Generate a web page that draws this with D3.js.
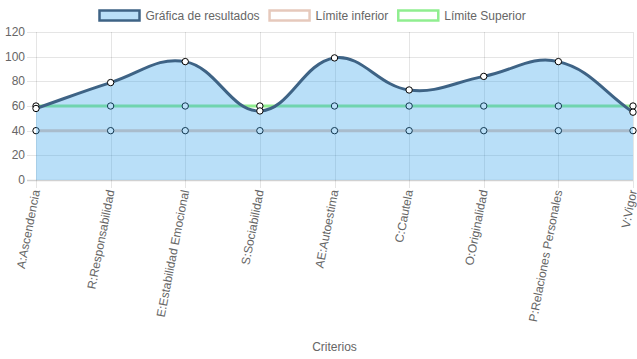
<!DOCTYPE html>
<html><head><meta charset="utf-8">
<script src="https://cdn.jsdelivr.net/npm/d3@7"></script>
<style>
html,body{margin:0;padding:0;background:#fff;}
svg{display:block;font-family:"Liberation Sans",Arial,Helvetica,sans-serif;}
</style></head>
<body><svg id="c" width="637" height="359"></svg>
<script>
const categories = ["A:Ascendencia","R:Responsabilidad","E:Estabilidad Emocional","S:Sociabilidad","AE:Autoestima","C:Cautela","O:Originalidad","P:Relaciones Personales","V:Vigor"];
const resultados = [58,79,96,56,99,73,84,96,55];
const limiteInferior = [40,40,40,40,40,40,40,40,40];
const limiteSuperior = [60,60,60,60,60,60,60,60,60];
const yTicks = [0,20,40,60,80,100,120];
const seriesNames = ["Gráfica de resultados","Límite inferior","Límite Superior"];
const axisTitle = "Criterios";

const W = 637, H = 359;
const cL = 36, cR = 633, cT = 32, cB = 180;
const svg = d3.select("#c");
const x = d3.scalePoint().domain(categories).range([cL, cR]);
const y = d3.scaleLinear().domain([0,120]).range([cB, cT]);

const lineCol = "rgb(62,99,133)";
const fillCol = "rgba(54,162,235,0.35)";
const infCol = "rgb(230,201,188)";
const supCol = "rgb(144,238,144)";
const grid = "rgba(0,0,0,0.1)";
const txt = "#666";

// gridlines
const g = svg.append("g");
yTicks.forEach(t => {
  g.append("line").attr("x1", 27).attr("x2", cR).attr("y1", Math.round(y(t))+0.5).attr("y2", Math.round(y(t))+0.5)
   .attr("stroke", t===0 ? "rgba(0,0,0,0.18)" : grid).attr("stroke-width", t===0?1.5:1);
  g.append("text").attr("x", 25).attr("y", y(t)).attr("text-anchor","end").attr("dominant-baseline","central")
   .attr("font-size", 12).attr("fill", txt).text(t);
});
categories.forEach(c => {
  g.append("line").attr("x1", Math.round(x(c))+0.5).attr("x2", Math.round(x(c))+0.5).attr("y1", cT).attr("y2", 188)
   .attr("stroke", grid);
  g.append("text").attr("transform", `translate(${x(c)},190) rotate(-79)`)
   .attr("text-anchor","end").attr("dominant-baseline","central")
   .attr("font-size", 12).attr("fill", txt).text(c);
});
svg.append("text").attr("x", (cL+cR)/2).attr("y", 347).attr("text-anchor","middle").attr("dominant-baseline","central")
  .attr("font-size", 12).attr("fill", txt).text(axisTitle);

// Chart.js style spline
function splinePath(vals, closeToZero) {
  const pts = vals.map((v,i) => ({x: x(categories[i]), y: y(v)}));
  const t = 0.4;
  pts.forEach((p,i) => {
    const prev = i>0 ? pts[i-1] : p;
    const next = i<pts.length-1 ? pts[i+1] : p;
    const d01 = Math.hypot(p.x-prev.x, p.y-prev.y);
    const d12 = Math.hypot(next.x-p.x, next.y-p.y);
    let s01 = d01/(d01+d12), s12 = d12/(d01+d12);
    if (isNaN(s01)) s01 = 0; if (isNaN(s12)) s12 = 0;
    const fa = t*s01, fb = t*s12;
    const clampX = v => Math.max(cL, Math.min(cR, v));
    const clampY = v => Math.max(cT, Math.min(cB, v));
    p.cpPrev = {x: clampX(p.x - fa*(next.x-prev.x)), y: clampY(p.y - fa*(next.y-prev.y))};
    p.cpNext = {x: clampX(p.x + fb*(next.x-prev.x)), y: clampY(p.y + fb*(next.y-prev.y))};
  });
  const path = d3.path();
  path.moveTo(pts[0].x, pts[0].y);
  for (let i=1;i<pts.length;i++) {
    path.bezierCurveTo(pts[i-1].cpNext.x, pts[i-1].cpNext.y, pts[i].cpPrev.x, pts[i].cpPrev.y, pts[i].x, pts[i].y);
  }
  if (closeToZero) {
    path.lineTo(pts[pts.length-1].x, y(0));
    path.lineTo(pts[0].x, y(0));
    path.closePath();
  }
  return {d: path.toString(), pts};
}

function drawPoints(vals) {
  svg.append("g").selectAll("circle").data(vals).join("circle")
    .attr("cx", (d,i) => x(categories[i])).attr("cy", d => y(d)).attr("r", 3.2)
    .attr("fill", "#fff").attr("stroke", "#000").attr("stroke-width", 1);
}

// datasets drawn last-first like Chart.js
const sup = splinePath(limiteSuperior, false);
svg.append("path").attr("d", sup.d).attr("fill","none").attr("stroke", supCol).attr("stroke-width", 3);
drawPoints(limiteSuperior);
const inf = splinePath(limiteInferior, false);
svg.append("path").attr("d", inf.d).attr("fill","none").attr("stroke", infCol).attr("stroke-width", 3);
drawPoints(limiteInferior);
const resF = splinePath(resultados, true);
svg.append("path").attr("d", resF.d).attr("fill", fillCol).attr("stroke","none");
const res = splinePath(resultados, false);
svg.append("path").attr("d", res.d).attr("fill","none").attr("stroke", lineCol).attr("stroke-width", 3);
drawPoints(resultados);

// legend
const legendItems = [
  {name: seriesNames[0], fill: fillCol, stroke: lineCol},
  {name: seriesNames[1], fill: "#fff", stroke: infCol},
  {name: seriesNames[2], fill: "#fff", stroke: supCol}
];
const lg = svg.append("g");
const widths = legendItems.map(it => {
  const tmp = lg.append("text").attr("font-size",12).text(it.name);
  const w = tmp.node().getComputedTextLength(); tmp.remove();
  return 40 + 6 + w;
});
let cx = 99.5;
legendItems.forEach((it,i) => {
  lg.append("rect").attr("x", cx).attr("y", 10.5).attr("width", 40).attr("height", 10)
    .attr("fill", it.fill).attr("stroke", it.stroke).attr("stroke-width", 2.5);
  lg.append("text").attr("x", cx+46).attr("y", 15.5).attr("dominant-baseline","central")
    .attr("font-size", 12).attr("fill", txt).text(it.name);
  cx += widths[i] + 10;
});
</script></body></html>
